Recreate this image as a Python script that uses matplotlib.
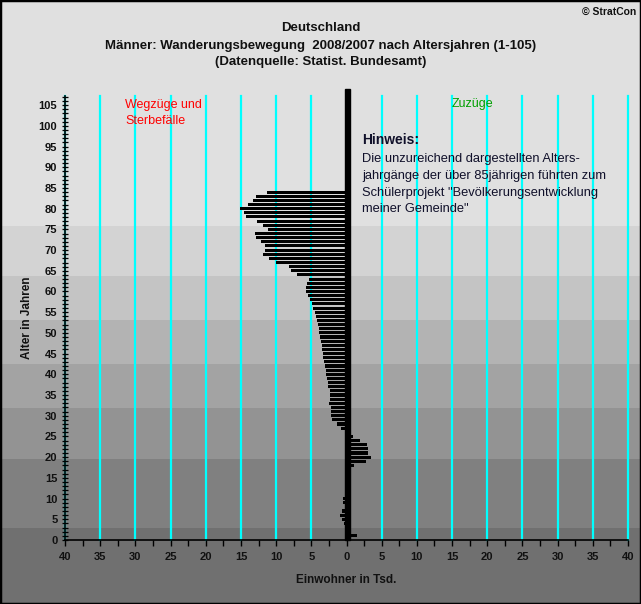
import matplotlib
matplotlib.use('Agg')
import matplotlib.pyplot as plt
from matplotlib.patches import Rectangle
from matplotlib.ticker import FixedLocator, MultipleLocator
import numpy as np

plt.rcParams['font.family'] = ['Liberation Sans', 'DejaVu Sans']

# Altersjahre 1..84 (ab 85 keine Daten), Werte in Tsd.
alter = list(range(1, 85))
werte = [
    1.45, 0.0, 0.0, -0.3, -0.6, -0.9, -0.6, 0.0, -0.5, -0.5,    # 1-10
    0.0, 0.0, 0.0, 0.0, 0.0, 0.6, 0.0, 1.05, 2.75, 3.5,         # 11-20
    3.05, 3.05, 2.9, 1.9, 0.9, -0.2, -0.8, -1.4, -2.0, -2.2,    # 21-30
    -2.2, -2.2, -2.5, -2.35, -2.35, -2.35, -2.6, -2.6, -2.8, -2.9,  # 31-40
    -2.9, -3.05, -3.2, -3.3, -3.3, -3.5, -3.5, -3.6, -3.8, -3.9,    # 41-50
    -3.9, -4.05, -4.2, -4.3, -4.5, -4.8, -4.9, -5.2, -5.5, -5.75,   # 51-60
    -5.75, -5.6, -5.3, -7.0, -7.9, -8.2, -10.0, -11.0, -11.9, -11.6,  # 61-70
    -11.6, -12.1, -12.85, -13.0, -11.2, -11.9, -12.7, -14.3, -14.6, -15.1,  # 71-80
    -14.0, -13.3, -12.85, -11.3,                                # 81-84
]

# Hintergrundbaender (Altersgrenzen) und Grautoene von unten nach oben
band_grenzen = [-40, 3, 19.6, 31.9, 42.5, 53.1, 63.8, 75.9, 160]
band_farben = ['#707070', '#808080', '#939393', '#a3a3a3', '#b3b3b3',
               '#c4c4c4', '#d3d3d3', '#e0e0e0']

xticks = list(range(-40, 41, 5))
yticks = list(range(0, 106, 5))

fig = plt.figure(figsize=(6.41, 6.04), dpi=100)
fig.patch.set_facecolor('#707070')
ax = fig.add_axes([65 / 641, 64 / 604, 563 / 641, 444 / 604])
ax.patch.set_visible(False)

for (lo, hi), farbe in zip(zip(band_grenzen[:-1], band_grenzen[1:]), band_farben):
    ax.axhspan(lo, hi, xmin=-0.3, xmax=1.3, color=farbe, lw=0, zorder=-10, clip_on=False)

for x in xticks:
    if x != 0:
        ax.axvline(x, color='#00ffff', lw=1.6, zorder=1, clip_on=False)

ax.barh(alter, werte, height=0.75, color='black', zorder=3)
ax.add_patch(Rectangle((-0.2, 0), 0.72, 109, color='black', zorder=4, clip_on=False))

ax.set_xlim(-40, 40)
ax.set_ylim(0, 107.2)

ax.spines['top'].set_visible(False)
ax.spines['right'].set_visible(False)
ax.spines['left'].set_zorder(5)
ax.spines['bottom'].set_linewidth(1.2)
ax.spines['left'].set_linewidth(1.2)

ax.xaxis.set_major_locator(FixedLocator(xticks))
ax.set_xticklabels([str(abs(x)) for x in xticks])
ax.xaxis.set_minor_locator(MultipleLocator(2.5))
ax.yaxis.set_major_locator(FixedLocator(yticks))
ax.set_yticklabels([str(y) for y in yticks])
ax.yaxis.set_minor_locator(MultipleLocator(1))

ax.tick_params(axis='x', which='both', direction='out', length=4, width=1.0, pad=5,
               labelsize=8)
ax.tick_params(axis='y', which='both', direction='inout', length=5, width=0.9, pad=3,
               labelsize=8)
for lab in ax.get_xticklabels() + ax.get_yticklabels():
    lab.set_fontweight('bold')
    lab.set_color('#111111')

ax.set_xlabel('Einwohner in Tsd.', fontsize=8.5, fontweight='bold', labelpad=8,
              color='#111111')
ax.set_ylabel('Alter in Jahren', fontsize=8.5, fontweight='bold', labelpad=4,
              color='#111111')

# Titel
fig.text(0.5, 1 - 28 / 604, 'Deutschland', ha='center', va='center',
         fontsize=9.5, fontweight='bold', color='#111111')
fig.text(0.5, 1 - 46 / 604,
         'Männer: Wanderungsbewegung  2008/2007 nach Altersjahren (1-105)',
         ha='center', va='center', fontsize=9.5, fontweight='bold', color='#111111')
fig.text(0.5, 1 - 62 / 604, '(Datenquelle: Statist. Bundesamt)', ha='center',
         va='center', fontsize=9.5, fontweight='bold', color='#111111')
fig.text(1 - 5 / 641, 1 - 12 / 604, '© StratCon', ha='right', va='center',
         fontsize=7.5, fontweight='bold', color='#111111')

# Beschriftungen im Diagramm
fig.text(125 / 641, 1 - 99 / 604, 'Wegzüge und\nSterbefälle', ha='left', va='top',
         fontsize=9, color='red', linespacing=1.5)
fig.text(472 / 641, 1 - 104 / 604, 'Zuzüge', ha='center', va='center',
         fontsize=9, color='#00a000')
fig.text(362 / 641, 1 - 140 / 604, 'Hinweis:', ha='left', va='center',
         fontsize=10, fontweight='bold', color='#10102a')
fig.text(362 / 641, 1 - 153 / 604,
         'Die unzureichend dargestellten Alters-\n'
         'jahrgänge der über 85jährigen führten zum\n'
         'Schülerprojekt "Bevölkerungsentwicklung\n'
         'meiner Gemeinde"',
         ha='left', va='top', fontsize=9.3, color='#10102a', linespacing=1.53)

# Rahmen um die Grafik
fig.add_artist(Rectangle((0, 0), 1, 1, transform=fig.transFigure, fill=False,
                         edgecolor='black', lw=2.5, clip_on=False))

fig.savefig('out.png', dpi=100)
